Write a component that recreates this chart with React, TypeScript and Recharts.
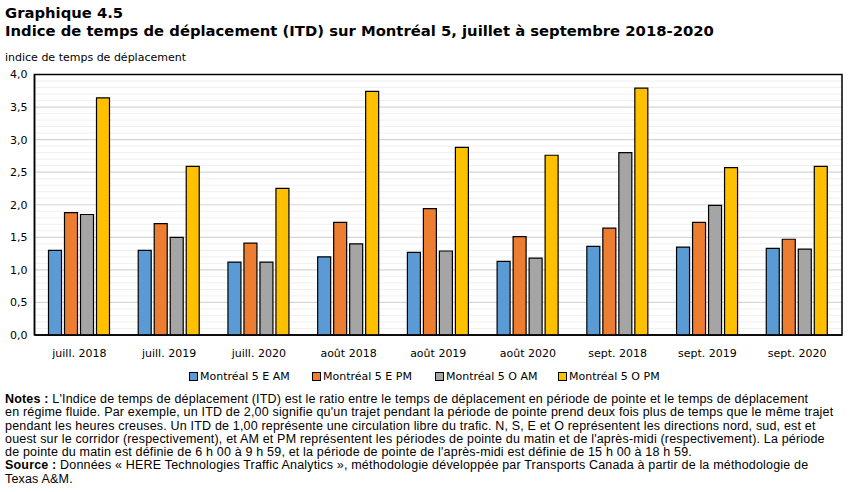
import React from "react";
import { BarChart, Bar, XAxis, YAxis, CartesianGrid, ReferenceArea } from "recharts";

const categories = ["juill. 2018", "juill. 2019", "juill. 2020", "août 2018", "août 2019", "août 2020", "sept. 2018", "sept. 2019", "sept. 2020"];
const eastAM = [1.30, 1.30, 1.12, 1.20, 1.27, 1.13, 1.36, 1.35, 1.33];
const eastPM = [1.88, 1.71, 1.41, 1.73, 1.94, 1.51, 1.64, 1.73, 1.47];
const westAM = [1.85, 1.50, 1.12, 1.40, 1.29, 1.18, 2.80, 1.99, 1.32];
const westPM = [3.64, 2.59, 2.25, 3.74, 2.88, 2.76, 3.79, 2.57, 2.59];
const seriesNames = ["Montréal 5 E AM", "Montréal 5 E PM", "Montréal 5 O AM", "Montréal 5 O PM"];
const seriesColors = ["#5b9bd5", "#ed7d31", "#a5a5a5", "#ffc000"];
const majorTicks = [0, 0.5, 1, 1.5, 2, 2.5, 3, 3.5, 4];
const minorTicks = [0.1, 0.2, 0.3, 0.4, 0.6, 0.7, 0.8, 0.9, 1.1, 1.2, 1.3, 1.4, 1.6, 1.7, 1.8, 1.9, 2.1, 2.2, 2.3, 2.4, 2.6, 2.7, 2.8, 2.9, 3.1, 3.2, 3.3, 3.4, 3.6, 3.7, 3.8, 3.9];

const data = categories.map((c, i) => ({
  name: c,
  s0: eastAM[i],
  s1: eastPM[i],
  s2: westAM[i],
  s3: westPM[i],
}));

const FONT = "Verdana, 'DejaVu Sans', sans-serif";
const fmt = (v: number) => v.toFixed(1).replace(".", ",");

export default function App() {
  return (
    <div style={{ position: "absolute", left: 0, top: 0, width: 851, height: 492, background: "#fff", fontFamily: FONT, color: "#000" }}>
      <div style={{ position: "absolute", left: 5, top: 4, fontWeight: "bold", fontSize: 14.8, lineHeight: "18px", whiteSpace: "nowrap" }}>
        Graphique 4.5<br />
        Indice de temps de déplacement (ITD) sur Montréal 5, juillet à septembre 2018-2020
      </div>
      <div style={{ position: "absolute", left: 5, top: 51, fontSize: 11, whiteSpace: "nowrap" }}>indice de temps de déplacement</div>
      <div style={{ position: "absolute", left: 0, top: 0 }}>
        <BarChart width={851} height={365} data={data} margin={{ top: 74.5, right: 9, left: 0, bottom: 0 }} barCategoryGap={14} barGap={3}>
          <CartesianGrid horizontal vertical={false} horizontalValues={minorTicks} stroke="#f0f0f0" strokeWidth={1} />
          <CartesianGrid horizontal vertical={false} stroke="#d6d6d6" strokeWidth={1.2} />
          <XAxis dataKey="name" tickLine={false} axisLine={{ stroke: "#000", strokeWidth: 1.5 }} tick={{ fontSize: 11, fill: "#000", fontFamily: FONT }} tickMargin={8} height={30} interval={0} />
          <YAxis domain={[0, 4]} ticks={majorTicks} tickFormatter={fmt} tickLine={false} tickSize={0} tickMargin={7} width={34.5} axisLine={{ stroke: "#000", strokeWidth: 1.5 }} tick={{ fontSize: 11, fill: "#000", fontFamily: FONT }} interval={0} />
          {seriesNames.map((n, i) => (
            <Bar key={n} dataKey={`s${i}`} name={n} fill={seriesColors[i]} stroke="#000" strokeWidth={1.2} isAnimationActive={false} />
          ))}
          <ReferenceArea y1={0} y2={4} fill="none" stroke="#000" strokeWidth={1.5} ifOverflow="visible" />
        </BarChart>
      </div>
      <div style={{ position: "absolute", left: 189, top: 370, display: "flex", fontSize: 11, whiteSpace: "nowrap" }}>
        {seriesNames.map((n, i) => (
          <div key={n} style={{ display: "flex", alignItems: "center", width: 123 }}>
            <span style={{ display: "inline-block", width: 7, height: 7, background: seriesColors[i], border: "1px solid #000", marginRight: 2 }} />
            <span>{n}</span>
          </div>
        ))}
      </div>
      <div style={{ position: "absolute", left: 5, top: 393, fontFamily: "Tahoma, 'Liberation Sans', sans-serif", fontSize: 12.5, letterSpacing: 0.18, lineHeight: "13.3px", whiteSpace: "nowrap" }}>
        <b>Notes :</b> L'Indice de temps de déplacement (ITD) est le ratio entre le temps de déplacement en période de pointe et le temps de déplacement<br />
        en régime fluide. Par exemple, un ITD de 2,00 signifie qu'un trajet pendant la période de pointe prend deux fois plus de temps que le même trajet<br />
        pendant les heures creuses. Un ITD de 1,00 représente une circulation libre du trafic. N, S, E et O représentent les directions nord, sud, est et<br />
        ouest sur le corridor (respectivement), et AM et PM représentent les périodes de pointe du matin et de l'après-midi (respectivement). La période<br />
        de pointe du matin est définie de 6 h 00 à 9 h 59, et la période de pointe de l'après-midi est définie de 15 h 00 à 18 h 59.<br />
        <b>Source :</b> Données « HERE Technologies Traffic Analytics », méthodologie développée par Transports Canada à partir de la méthodologie de<br />
        Texas A&amp;M.
      </div>
    </div>
  );
}
